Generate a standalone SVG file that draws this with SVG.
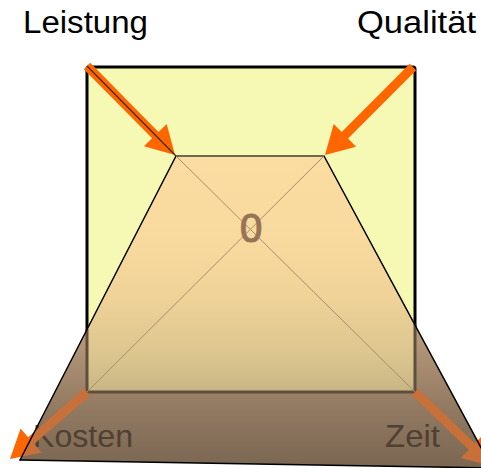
<svg xmlns="http://www.w3.org/2000/svg" xmlns:xlink="http://www.w3.org/1999/xlink" width="481" height="468" viewBox="0 0 481 468">
<style>
.lbl{font-family:"Liberation Sans",Arial,sans-serif;font-size:31px;fill:#000}
.lbl2{font-family:"Liberation Sans",Arial,sans-serif;font-size:32px;fill:#4e4032}
.edge{stroke:#000;stroke-width:1.5;fill:none;stroke-linecap:round}
.diag{stroke:#aa8c69;stroke-width:1;fill:none}
.arrow{fill:#ff6600}
</style>
<defs>
<linearGradient id="gTrap" gradientUnits="userSpaceOnUse" x1="0" y1="156" x2="0" y2="468">
<stop offset="0" stop-color="#f9daa0"/>
<stop offset="0.56" stop-color="#b99b7d"/>
<stop offset="0.78" stop-color="#967d64"/>
<stop offset="1" stop-color="#7a6652"/>
</linearGradient>
<linearGradient id="gInner" gradientUnits="userSpaceOnUse" x1="0" y1="156" x2="0" y2="392">
<stop offset="0" stop-color="#fbdda1"/>
<stop offset="0.36" stop-color="#f9da9e"/>
<stop offset="0.61" stop-color="#eed298"/>
<stop offset="0.86" stop-color="#dac48e"/>
<stop offset="1" stop-color="#c6b684"/>
</linearGradient>
<clipPath id="trapClip">
<polygon points="176,156 324,156 492,468 20,460"/>
</clipPath>
<g id="bottomArrows">
<polygon points="90,395.4 34.1,444 41.6,452.7 10,459 20.6,428.5 28.1,437.2 84,388.6"/>
<polygon points="418.1,388.8 474.9,443.4 482.9,435.1 492,466 460.7,458.1 468.7,449.8 411.9,395.2"/>
</g>
</defs>

<g id="square">
<rect x="87" y="67" width="328" height="325" rx="2" fill="#f6f9b4" stroke="#000" stroke-width="3"/>
</g>

<g id="connectors-bottom">
<use xlink:href="#bottomArrows" fill="#ff6600"/>
</g>

<g id="pyramid">
<polygon points="176,156 324,156 492,468 20,460" fill="url(#gTrap)"/>
<polygon points="176,156 324,156 415,324 415,392 87,392 87,329" fill="url(#gInner)"/>
<polyline points="87,329 87,392 415,392 415,324" fill="none" stroke="#5f4e3c" stroke-width="3"/>
</g>

<g id="kosten"><text class="lbl2" x="33" y="447" textLength="100" lengthAdjust="spacingAndGlyphs">Kosten</text></g>
<g id="zeit"><text class="lbl2" x="385" y="447" textLength="55" lengthAdjust="spacingAndGlyphs">Zeit</text></g>

<g id="connectors-bottom-muted">
<use xlink:href="#bottomArrows" fill="#c8703a" clip-path="url(#trapClip)"/>
</g>

<g id="pyramid-lines">
<line class="edge" x1="176" y1="156" x2="20" y2="460"/>
<line class="edge" x1="324" y1="156" x2="492" y2="468"/>
<line class="edge" x1="20" y1="460" x2="492" y2="468" stroke-width="2"/>
<line class="diag" x1="176" y1="156" x2="415" y2="392"/>
<line class="diag" x1="324" y1="156" x2="87" y2="392"/>
<line x1="176" y1="156" x2="324" y2="156" stroke="#6e6955" stroke-width="2"/>
</g>

<g id="center">
<text x="251" y="242" text-anchor="middle" font-family="Liberation Sans, Arial, sans-serif" font-size="40" fill="#977458" stroke="#977458" stroke-width="1.2">0</text>
</g>

<g id="connectors">
<polygon class="arrow" points="83.8,69.2 152.1,138.3 143.9,146.3 175,155 166.7,123.9 158.5,131.9 90.2,62.8"/>
<line x1="87" y1="66" x2="176" y2="156" stroke="#3a2a10" stroke-width="1.2"/>
<polygon class="arrow" points="416.2,70.2 348.1,138.5 356.1,146.7 325,155 333.7,123.9 341.7,132.1 409.8,63.8"/>
</g>

<g id="leistung"><text class="lbl" x="23" y="33" textLength="125" lengthAdjust="spacingAndGlyphs">Leistung</text></g>
<g id="qualitaet"><text class="lbl" x="357" y="33" textLength="119" lengthAdjust="spacingAndGlyphs">Qualität</text></g>
</svg>
